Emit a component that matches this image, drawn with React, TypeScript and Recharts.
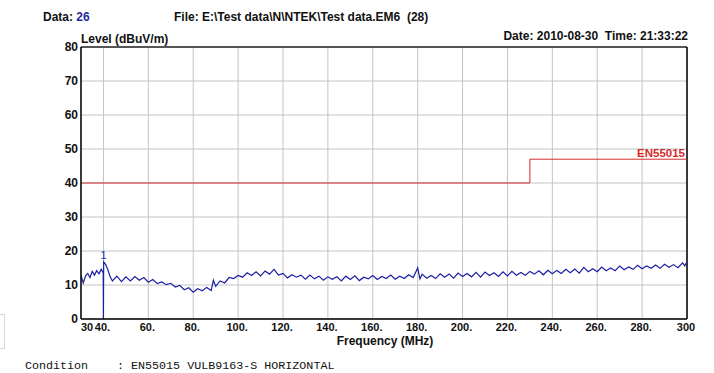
import { LineChart, Line, XAxis, YAxis, CartesianGrid, ReferenceLine, ReferenceDot } from "recharts";

// measured trace, frequency in MHz
const freqMHz = [
  30, 31, 32, 33, 34, 35, 36, 37, 38, 39, 39.9, 40, 40.1, 41, 42, 43, 44, 46, 48, 50,
  52, 54, 56, 58, 60, 62, 64, 66, 68, 70, 72, 74, 76, 78, 80, 82, 84, 86, 88, 89,
  90, 92, 94, 96, 98, 100, 102, 104, 106, 108, 110, 112, 114, 116, 118, 120, 122, 124, 126, 128,
  130, 132, 134, 136, 138, 140, 142, 144, 146, 148, 150, 152, 154, 156, 158, 160, 162, 164, 166, 168,
  170, 172, 174, 176, 178, 180, 181, 182, 184, 186, 188, 190, 192, 194, 196, 198, 200, 202, 204, 206,
  208, 210, 212, 214, 216, 218, 220, 222, 224, 226, 228, 230, 232, 234, 236, 238, 240, 242, 244, 246,
  248, 250, 252, 254, 256, 258, 260, 262, 264, 266, 268, 270, 272, 274, 276, 278, 280, 282, 284, 286,
  288, 290, 292, 294, 296, 298, 299, 300,
];

// level in dBuV/m
const levelDbuv = [
  12.8, 10.6, 12.6, 13.4, 12.2, 14.0, 12.9, 14.2, 13.3, 14.6, 13.6, 0, 16.8, 16.0, 14.4, 12.4, 11.2, 12.6, 11.0, 12.4,
  11.2, 12.5, 11.4, 12.2, 10.8, 11.6, 10.4, 10.9, 10.1, 10.5, 9.4, 9.9, 8.6, 9.2, 7.9, 8.9, 8.3, 9.3, 8.4, 11.4,
  9.6, 11.2, 10.6, 12.2, 11.9, 12.8, 12.3, 13.6, 12.8, 13.9, 12.7, 14.1, 13.2, 14.6, 12.9, 13.4, 12.1, 13.0, 12.3, 12.9,
  11.7, 12.9, 11.8, 12.6, 11.4, 12.4, 11.7, 12.4, 11.2, 12.6, 11.6, 12.7, 11.3, 12.3, 11.8, 12.8, 11.6, 12.5, 11.9, 12.9,
  11.7, 12.6, 11.9, 13.0, 12.2, 15.0, 11.8, 13.2, 12.0, 12.8, 11.9, 13.3, 12.3, 13.2, 12.0, 13.5, 12.5, 13.4, 12.4, 13.7,
  12.3, 13.8, 12.8, 13.6, 12.5, 13.9, 12.7, 14.0, 12.9, 13.7, 12.9, 14.0, 13.2, 14.2, 13.0, 14.3, 13.3, 14.3, 13.4, 14.6,
  13.6, 14.7, 13.5, 15.2, 13.9, 14.8, 13.9, 15.3, 14.2, 15.0, 14.2, 15.6, 14.5, 15.3, 14.6, 15.8, 14.8, 15.6, 14.9, 15.9,
  14.9, 16.1, 15.2, 16.0, 15.1, 16.5, 15.6, 16.9,
];

// EN55015 limit
const limitFreq = [30, 230, 230, 300];
const limitLevel = [40, 40, 47, 47];

const xTicks = [30, 40, 60, 80, 100, 120, 140, 160, 180, 200, 220, 240, 260, 280, 300];
const yTicks = [0, 10, 20, 30, 40, 50, 60, 70, 80];

const trace = freqMHz.map((f, i) => ({ f, v: levelDbuv[i] }));
const limit = limitFreq.map((f, i) => ({ f, v: limitLevel[i] }));

const SANS = "'Liberation Sans', Arial, sans-serif";

function FreqTick(props: any) {
  const { x, y, payload } = props;
  const v = payload.value;
  const text = v === 30 || v === 300 ? String(v) : `${v}.`;
  return (
    <text
      x={v === 30 ? x : x - 1}
      y={y + 12}
      textAnchor={v === 30 ? "start" : "middle"}
      fontSize={11}
      fontWeight="bold"
      fontFamily={SANS}
      fill="#111"
    >
      {text}
    </text>
  );
}

const abs = (left: number, top: number, extra: any = {}) => ({
  position: "absolute" as const,
  left,
  top,
  whiteSpace: "pre" as const,
  lineHeight: "14px",
  fontFamily: SANS,
  fontSize: 12,
  fontWeight: "bold" as const,
  color: "#111",
  ...extra,
});

export default function App() {
  return (
    <div style={{ position: "absolute", left: 0, top: 0, width: 714, height: 373, background: "#fff", overflow: "hidden" }}>
      <div style={abs(43, 10)}>
        Data: <span style={{ color: "#1f2a9c" }}>26</span>
      </div>
      <div style={abs(174, 10)}>File: E:\Test data\N\NTEK\Test data.EM6  (28)</div>
      <div style={abs(0, 29, { width: 688, textAlign: "right" })}>Date: 2010-08-30  Time: 21:33:22</div>
      <div style={abs(81, 32)}>Level (dBuV/m)</div>

      <LineChart width={714} height={373} margin={{ top: 47, right: 27, bottom: 34, left: 41 }}>
        <CartesianGrid stroke="#c4c4c4" strokeWidth={1} horizontalValues={yTicks} verticalValues={xTicks} />
        <XAxis
          type="number"
          dataKey="f"
          domain={[30, 300]}
          ticks={xTicks}
          interval={0}
          allowDataOverflow
          height={20}
          tickSize={0}
          tickMargin={0}
          tickLine={false}
          axisLine={{ stroke: "#000", strokeWidth: 1.5 }}
          tick={<FreqTick />}
        />
        <YAxis
          type="number"
          domain={[0, 80]}
          ticks={yTicks}
          interval={0}
          allowDataOverflow
          width={40}
          tickSize={0}
          tickMargin={3}
          tickLine={false}
          axisLine={{ stroke: "#000", strokeWidth: 1.5 }}
          tick={{ fontSize: 12, fontWeight: "bold", fontFamily: SANS, fill: "#111" }}
        />
        <ReferenceLine y={80} stroke="#555" strokeWidth={2} />
        <ReferenceLine x={300} stroke="#000" strokeWidth={1.5} />
        <Line
          data={limit}
          dataKey="v"
          type="linear"
          stroke="#d42a2a"
          strokeWidth={1}
          dot={false}
          activeDot={false}
          isAnimationActive={false}
        />
        <Line
          data={trace}
          dataKey="v"
          type="linear"
          stroke="#1a1fa2"
          strokeWidth={1.2}
          dot={false}
          activeDot={false}
          isAnimationActive={false}
        />
        <ReferenceDot
          x={40}
          y={17}
          r={0}
          stroke="none"
          label={{ value: "1", position: "top", offset: 2, fill: "#1a1fa2", fontSize: 11, fontFamily: SANS }}
        />
        <ReferenceDot
          x={300}
          y={47}
          r={0}
          stroke="none"
          label={{
            value: "EN55015",
            position: "insideBottomRight",
            offset: 2,
            fill: "#d42a2a",
            fontSize: 11.5,
            fontWeight: "bold",
            fontFamily: SANS,
          }}
        />
      </LineChart>

      <div style={abs(0, 334, { width: 770, textAlign: "center" })}>Frequency (MHz)</div>
      <div style={{ position: "absolute", left: -6, top: 314, width: 9, height: 33, border: "1px solid #d8d8d8" }} />
      <div style={abs(25, 359, { fontFamily: "'Liberation Mono', monospace", fontWeight: "normal", fontSize: 11.7 })}>Condition</div>
      <div style={abs(117, 359, { fontFamily: "'Liberation Mono', monospace", fontWeight: "normal", fontSize: 11.7 })}>
        : EN55015 VULB9163-S HORIZONTAL
      </div>
    </div>
  );
}
